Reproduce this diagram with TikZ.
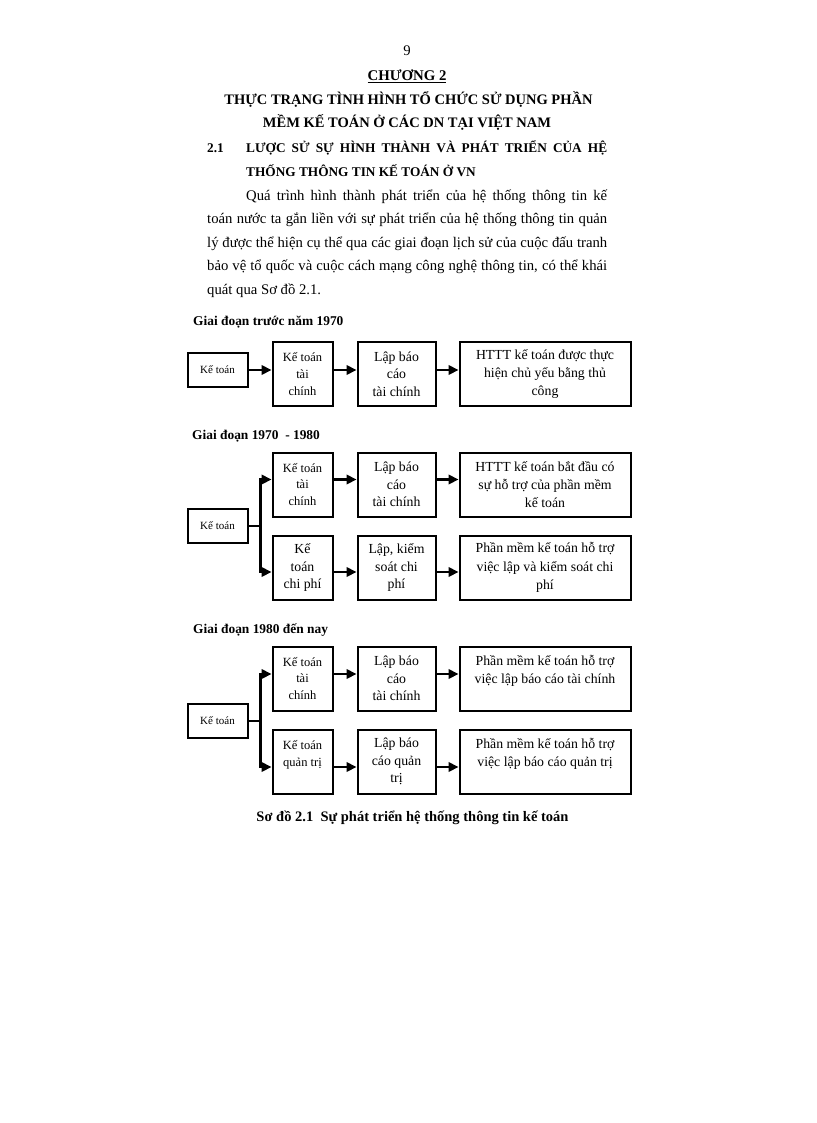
\documentclass[tikz,border=0pt]{standalone}
\usepackage{fontspec}
\setmainfont{Liberation Serif}
\usepackage{tikz}
\usetikzlibrary{arrows.meta,positioning}
\tikzset{
  box/.style={draw, rectangle, line width=2pt, align=center, inner sep=1pt,
    minimum height=64pt, font=\fontsize{13.8}{17.5}\selectfont},
  tcbox/.style={box, minimum width=60pt, font=\fontsize{12.5}{16.7}\selectfont},
  bcbox/.style={box, minimum width=78pt},
  widebox/.style={box, minimum width=171pt, font=\fontsize{13.8}{18.3}\selectfont},
  rootbox/.style={box, minimum width=60pt, minimum height=34pt,
    font=\fontsize{11}{13}\selectfont},
  arr/.style={-{Triangle[length=10pt,width=9.5pt]}, line width=2.1pt},
  link/.style={line width=2pt},
  body/.style={anchor=west, inner sep=0pt, font=\fontsize{14.7}{18}\selectfont},
  head/.style={inner sep=0pt, font=\bfseries\fontsize{14.5}{18}\selectfont},
  subhead/.style={anchor=west, inner sep=0pt, font=\bfseries\fontsize{13.3}{16}\selectfont},
  stage/.style={anchor=west, inner sep=0pt, font=\bfseries\fontsize{13.4}{16}\selectfont}
}
\begin{document}
\begin{tikzpicture}[x=1pt, y=-1pt]
  \fill[white] (0,0) rectangle (816,1123);
  \useasboundingbox (0,0) rectangle (816,1123);

  % page heading
  \node [inner sep=0pt, font=\fontsize{14.7}{18}\selectfont] (pg) at (407,51) {9};
  \node [head, font=\bfseries\fontsize{14.8}{18}\selectfont] (chap) at (407,76) {\underline{CHƯƠNG 2}};
  \node [head] (ti1) at (408.5,99.5) {THỰC TRẠNG TÌNH HÌNH TỔ CHỨC SỬ DỤNG PHẦN};
  \node [head] (ti2) at (407,122) {MỀM KẾ TOÁN Ở CÁC DN TẠI VIỆT NAM};
  \node [subhead] (sec) at (207,148) {2.1};
  \node [subhead] (se1) at (246,148) {\makebox[361pt][s]{LƯỢC SỬ SỰ HÌNH THÀNH VÀ PHÁT TRIỂN CỦA HỆ}};
  \node [subhead] (se2) at (246,171) {THỐNG THÔNG TIN KẾ TOÁN Ở VN};

  % paragraph
  \node [body] (p1) at (246,197) {\makebox[361pt][s]{Quá trình hình thành phát triển của hệ thống thông tin kế}};
  \node [body] (p2) at (207,220) {\makebox[400pt][s]{toán nước ta gắn liền với sự phát triển của hệ thống thông tin quản}};
  \node [body] (p3) at (207,244) {\makebox[400pt][s]{lý được thể hiện cụ thể qua các giai đoạn lịch sử của cuộc đấu tranh}};
  \node [body] (p4) at (207,267) {\makebox[400pt][s]{bảo vệ tổ quốc và cuộc cách mạng công nghệ thông tin, có thể khái}};
  \node [body] (p5) at (207,291) {quát qua Sơ đồ 2.1.};

  % truoc 1970
  \node [stage] (g1) at (193,322) {Giai đoạn trước năm 1970};
  \node [rootbox] (k1) at (217.5,370) {Kế toán};
  \node [tcbox] (tc1) at (302.5,374) {Kế toán\\tài\\chính};
  \node [bcbox, right of=tc1, node distance=94pt] (bc1) {Lập báo\\cáo\\tài chính};
  \node [widebox, right of=bc1, node distance=148.5pt] (ht1) {HTTT kế toán được thực\\hiện chủ yếu bằng thủ\\công};
  \draw [arr] (k1.east) -- (k1 -| tc1.west);
  \draw [arr] (tc1.east |- k1) -- (bc1.west |- k1);
  \draw [arr] (bc1.east |- k1) -- (ht1.west |- k1);

  % 1970 - 1980
  \node [stage] (g2) at (192,436) {Giai đoạn 1970~ - 1980};
  \node [rootbox] (k2) at (217.5,525.5) {Kế toán};
  \node [tcbox] (tc2) at (302.5,484.5) {Kế toán\\tài\\chính};
  \node [bcbox, right of=tc2, node distance=94pt] (bc2) {Lập báo\\cáo\\tài chính};
  \node [widebox, right of=bc2, node distance=148.5pt] (ht2) {HTTT kế toán bắt đầu có\\sự hỗ trợ của phần mềm\\kế toán};
  \node [box, minimum width=60pt, below of=tc2, node distance=83pt] (cp2) {Kế\\toán\\chi phí};
  \node [bcbox, right of=cp2, node distance=94pt] (ks2) {Lập, kiểm\\soát chi\\phí};
  \node [widebox, right of=ks2, node distance=148.5pt] (pm2) {Phần mềm kế toán hỗ trợ\\việc lập và kiểm soát chi\\phí};
  \coordinate [right=12pt of k2] (j2);
  \draw [link] (k2.east) -- (j2);
  \draw [arr] (j2) |- ([yshift=5pt]tc2.west);
  \draw [arr] (j2) |- ([yshift=-4.5pt]cp2.west);
  \draw [arr] ([yshift=5pt]tc2.east) -- ([yshift=5pt]bc2.west);
  \draw [arr] ([yshift=5pt]bc2.east) -- ([yshift=5pt]ht2.west);
  \draw [arr] ([yshift=-4.5pt]cp2.east) -- ([yshift=-4.5pt]ks2.west);
  \draw [arr] ([yshift=-4.5pt]ks2.east) -- ([yshift=-4.5pt]pm2.west);

  % 1980 den nay
  \node [stage] (g3) at (193,630) {Giai đoạn 1980 đến nay};
  \node [rootbox] (k3) at (217.5,720.5) {Kế toán};
  \node [tcbox] (tc3) at (302.5,678.5) {Kế toán\\tài\\chính};
  \node [bcbox, right of=tc3, node distance=94pt] (bc3) {Lập báo\\cáo\\tài chính};
  \node [widebox, right of=bc3, node distance=148.5pt] (pm3) {Phần mềm kế toán hỗ trợ\\việc lập báo cáo tài chính\\ \mbox{}};
  \node [tcbox, below of=tc3, node distance=83pt] (qt3) {Kế toán\\quản trị\\ \mbox{}};
  \node [bcbox, right of=qt3, node distance=94pt] (bq3) {Lập báo\\cáo quản\\trị};
  \node [widebox, right of=bq3, node distance=148.5pt] (pq3) {Phần mềm kế toán hỗ trợ\\việc lập báo cáo quản trị\\ \mbox{}};
  \coordinate [right=12pt of k3] (j3);
  \draw [link] (k3.east) -- (j3);
  \draw [arr] (j3) |- ([yshift=4.5pt]tc3.west);
  \draw [arr] (j3) |- ([yshift=-5.5pt]qt3.west);
  \draw [arr] ([yshift=4.5pt]tc3.east) -- ([yshift=4.5pt]bc3.west);
  \draw [arr] ([yshift=4.5pt]bc3.east) -- ([yshift=4.5pt]pm3.west);
  \draw [arr] ([yshift=-5.5pt]qt3.east) -- ([yshift=-5.5pt]bq3.west);
  \draw [arr] ([yshift=-5.5pt]bq3.east) -- ([yshift=-5.5pt]pq3.west);

  \node [head] (cap) at (412.5,818) {Sơ đồ 2.1~ Sự phát triển hệ thống thông tin kế toán};
\end{tikzpicture}
\end{document}
